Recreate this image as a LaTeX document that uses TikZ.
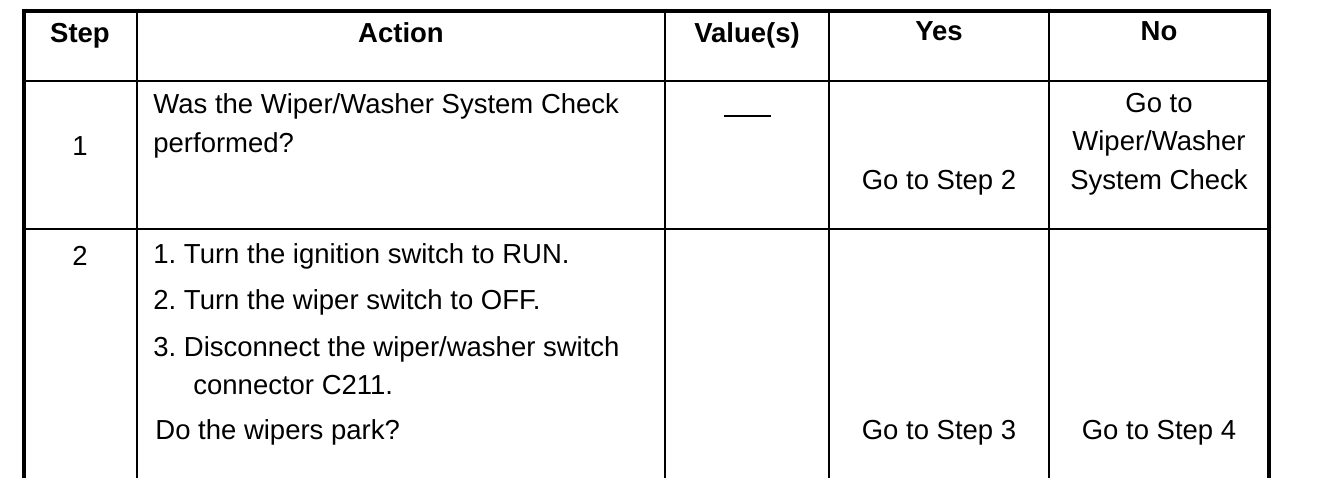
\documentclass[tikz,border=0pt]{standalone}
\usepackage{fontspec}
\setmainfont{Liberation Sans}
\frenchspacing
\begin{document}
\begin{tikzpicture}[x=0.5pt,y=-0.5pt,
    txt/.style={inner sep=0pt,anchor=base west,font=\fontsize{13.75}{16}\selectfont},
    ctxt/.style={inner sep=0pt,anchor=base,font=\fontsize{13.75}{16}\selectfont},
    hd/.style={inner sep=0pt,anchor=base,font=\fontsize{13.75}{16}\selectfont\bfseries},
    rule/.style={line width=1.4pt},
    frame/.style={line width=2.2pt}]
                \useasboundingbox (0,0) rectangle (1328,500);

                % grid
                \draw[frame] (24,478) -- (24,11) -- (1269,11) -- (1269,478);
                \draw[rule] (137,11) -- (137,478);
                \draw[rule] (665,11) -- (665,478);
                \draw[rule] (829,11) -- (829,478);
                \draw[rule] (1049,11) -- (1049,478);
                \draw[rule] (24,81) -- (1269,81);
                \draw[rule] (24,229) -- (1269,229);

                % header
                \node[hd] (hstep) at (80,42) {Step};
                \node[hd] (hact) at (401,42) {Action};
                \node[hd] (hval) at (747,42) {Value(s)};
                \node[hd] (hyes) at (939,40) {Yes};
                \node[hd] (hno) at (1159,40) {No};

                % step 1
                \node[ctxt] (s1) at (80,155) {1};
                \node[txt] (a1a) at (153,113) {Was the Wiper/Washer System Check};
                \node[txt] (a1b) at (153,152) {performed?};
                \node[inner sep=0pt] (v1) at (747,116) {\rule{23.5pt}{0.9pt}};
                \node[ctxt] (y1) at (939,189) {Go to Step 2};
                \node[ctxt] (n1a) at (1159,112) {Go to};
                \node[ctxt] (n1b) at (1159,150) {Wiper/Washer};
                \node[ctxt] (n1c) at (1159,189) {System Check};

                % step 2
                \node[ctxt] (s2) at (80,265) {2};
                \node[txt] (a2a) at (153,263) {1. Turn the ignition switch to RUN.};
                \node[txt] (a2b) at (153,309) {2. Turn the wiper switch to OFF.};
                \node[txt] (a2c) at (153,356) {3. Disconnect the wiper/washer switch};
                \node[txt] (a2d) at (193,394) {connector C211.};
                \node[txt] (a2e) at (155,439) {Do the wipers park?};
                \node[ctxt] (y2) at (939,439) {Go to Step 3};
                \node[ctxt] (n2) at (1159,439) {Go to Step 4};
            \end{tikzpicture}
\end{document}
